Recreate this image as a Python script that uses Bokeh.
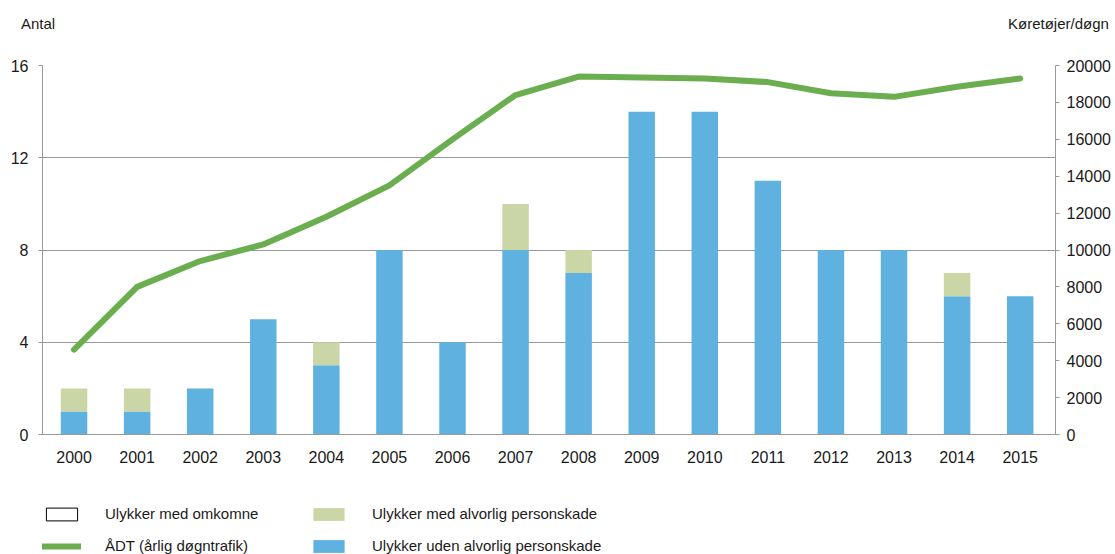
from bokeh.plotting import figure
from bokeh.models import (Range1d, LinearAxis, FixedTicker, Legend, LegendItem,
                          ColumnDataSource)
from bokeh.layouts import column
from bokeh.embed import file_html
from bokeh.resources import INLINE

years = [2000, 2001, 2002, 2003, 2004, 2005, 2006, 2007, 2008, 2009, 2010, 2011, 2012, 2013, 2014, 2015]
uden = [1, 1, 2, 5, 3, 8, 4, 8, 7, 14, 14, 11, 8, 8, 6, 6]
alvorlig = [1, 1, 0, 0, 1, 0, 0, 2, 1, 0, 0, 0, 0, 0, 1, 0]
omkomne = [0] * 16
adt = [4600, 8000, 9400, 10300, 11800, 13500, 16000, 18400, 19400, 19350, 19300, 19100, 18500, 18300, 18850, 19300]

left_ticks = [0, 4, 8, 12, 16]
right_ticks = [0, 2000, 4000, 6000, 8000, 10000, 12000, 14000, 16000, 18000, 20000]
axis_titles = ["Antal", "Køretøjer/døgn"]
legend_labels = ["Ulykker med omkomne", "ÅDT (årlig døgntrafik)",
                 "Ulykker med alvorlig personskade", "Ulykker uden alvorlig personskade"]

FONT = "Liberation Sans"
BLUE = "#5FB2E0"
LGREEN = "#CBD6A6"
LINE = "#6AAE4F"
GRID = "#999999"
TXT = "#1a1a1a"
W = 1113


def blank_fig(h):
    f = figure(frame_width=W, frame_height=h, output_backend="svg", toolbar_location=None,
               x_range=Range1d(0, 1), y_range=Range1d(0, 1),
               x_axis_type=None, y_axis_type=None, min_border=0)
    f.outline_line_color = None
    f.grid.grid_line_color = None
    f.border_fill_color = "white"
    return f


# ---- top strip: axis titles (label-only legend)
t = blank_fig(57)
t_blank = t.line(x=[], y=[], line_alpha=0)
top = Legend(items=[LegendItem(label=axis_titles[0], renderers=[t_blank]),
                    LegendItem(label=axis_titles[1], renderers=[t_blank])],
             location=(21, 25), orientation="horizontal", nrows=1,
             glyph_width=0, glyph_height=16, label_standoff=0, label_width=40,
             label_height=16, spacing=947, padding=0, margin=0,
             label_text_font=FONT, label_text_font_size="15px", label_text_color=TXT,
             border_line_color=None, background_fill_alpha=0)
t.add_layout(top, "center")

# ---- main chart
p = figure(frame_width=1013, frame_height=369, output_backend="svg", toolbar_location=None,
           x_range=Range1d(1999.5, 2015.56), y_range=Range1d(0, 16),
           min_border_left=42, min_border_right=58, min_border_top=8, min_border_bottom=40)
p.outline_line_color = None
p.background_fill_color = "white"
p.border_fill_color = "white"
p.extra_y_ranges = {"adt": Range1d(0, 20000)}

src = ColumnDataSource(dict(year=years, uden=uden, alvorlig=alvorlig, omkomne=omkomne, adt=adt))
p.vbar_stack(["uden", "alvorlig"], x="year", width=0.42, source=src,
             color=[BLUE, LGREEN], line_color=None)
p.line(x="year", y="adt", source=src, y_range_name="adt", line_color=LINE, line_width=6,
       line_cap="round", line_join="round")

p.xaxis.ticker = FixedTicker(ticks=years)
p.xaxis.axis_line_color = GRID
p.xaxis.major_tick_line_color = None
p.xaxis.minor_tick_line_color = None
p.xaxis.major_label_text_font = FONT
p.xaxis.major_label_text_font_size = "16px"
p.xaxis.major_label_text_color = TXT
p.xaxis.major_label_standoff = 10

p.yaxis.ticker = FixedTicker(ticks=left_ticks)
p.yaxis.axis_line_color = GRID
p.yaxis.major_tick_line_color = GRID
p.yaxis.major_tick_out = 4
p.yaxis.major_tick_in = 0
p.yaxis.minor_tick_line_color = None
p.yaxis.major_label_text_font = FONT
p.yaxis.major_label_text_font_size = "16px"
p.yaxis.major_label_text_color = TXT
p.yaxis.major_label_standoff = 10

ra = LinearAxis(y_range_name="adt", ticker=FixedTicker(ticks=right_ticks))
ra.axis_line_color = GRID
ra.major_tick_line_color = GRID
ra.major_tick_out = 4
ra.major_tick_in = 0
ra.minor_tick_line_color = None
ra.major_label_text_font = FONT
ra.major_label_text_font_size = "16px"
ra.major_label_text_color = TXT
ra.major_label_standoff = 7
p.add_layout(ra, "right")

p.xgrid.grid_line_color = None
p.ygrid.ticker = FixedTicker(ticks=left_ticks)
p.ygrid.grid_line_color = GRID
p.ygrid.grid_line_width = 1.2

# ---- bottom strip: legend (swatch renderers kept far outside the visible range)
q = blank_fig(80)
r_omk = q.vbar(x=[0.5], bottom=[-20], top=[-19], width=0.1, fill_color="white",
               line_color="black", line_width=1)
r_line = q.line(x=[0.4, 0.6], y=[-20, -20], line_color=LINE, line_width=6, line_cap="round")
r_alv = q.vbar(x=[0.5], bottom=[-20], top=[-19], width=0.1, fill_color=LGREEN, line_color=None)
r_uden = q.vbar(x=[0.5], bottom=[-20], top=[-19], width=0.1, fill_color=BLUE, line_color=None)

legend = Legend(items=[
    LegendItem(label=legend_labels[0], renderers=[r_omk]),
    LegendItem(label=legend_labels[1], renderers=[r_line]),
    LegendItem(label=legend_labels[2], renderers=[r_alv]),
    LegendItem(label=legend_labels[3], renderers=[r_uden]),
], location=(42, 0), orientation="vertical", nrows=2,
    glyph_width=39, glyph_height=16, label_standoff=24, label_width=189,
    label_height=16, spacing=15, padding=0, margin=0,
    label_text_font=FONT, label_text_font_size="15px", label_text_color=TXT,
    border_line_color=None, background_fill_alpha=0)
q.add_layout(legend, "center")

layout = column(t, p, q, spacing=0)
open("out.html", "w").write(file_html(layout, INLINE))
